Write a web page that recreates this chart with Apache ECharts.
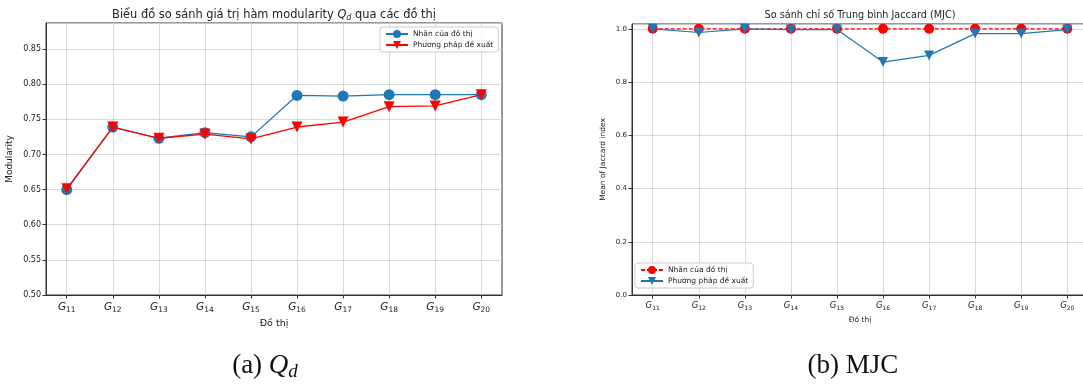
<!DOCTYPE html>
<html><head><meta charset="utf-8">
<script src="https://cdn.jsdelivr.net/npm/echarts@6/dist/echarts.min.js"></script>
<style>html,body{margin:0;padding:0;background:#fff}#c{width:1083px;height:385px}</style>
</head><body><div id="c"></div>
<script>
// ---- data ----
const categories = ['11','12','13','14','15','16','17','18','19','20'];
const qdGraphLabels = [0.650,0.739,0.723,0.731,0.725,0.784,0.783,0.785,0.785,0.785];
const qdProposed    = [0.651,0.739,0.723,0.729,0.722,0.739,0.746,0.768,0.769,0.785];
const mjcGraphLabels = [1.0,1.0,1.0,1.0,1.0,1.0,1.0,1.0,1.0,1.0];
const mjcProposed    = [1.0,0.986,1.0,0.997,0.997,0.875,0.900,0.982,0.982,0.997];
const nameLabels = 'Nhãn của đồ thị';
const nameProposed = 'Phương pháp đề xuất';

const FONT = 'DejaVu Sans';
const BLUE = '#1f77b4', RED = '#ff0000', GRIDC = '#d0d0d0', AXC = '#333';
const idx = categories.map((_, i) => i);
const pairs = arr => arr.map((v, i) => [i, v]);

function xAxisFor(gridIndex, gSize, sSize, nameSize, nameGap, margin) {
  return {
    type: 'value', gridIndex, min: -0.45, max: 9.45,
    name: 'Đồ thị', nameLocation: 'middle', nameGap,
    nameTextStyle: {fontFamily: FONT, fontSize: nameSize, color: '#222'},
    axisLine: {show: true, onZero: false, lineStyle: {color: AXC, width: 1}},
    axisTick: {show: true, length: 3.5, lineStyle: {color: AXC}, customValues: idx},
    splitLine: {show: true, lineStyle: {color: GRIDC, width: 0.8}},
    axisLabel: {
      customValues: idx, margin,
      formatter: v => Number.isInteger(v) && categories[v] ? '{g|G}{s|' + categories[v] + '}' : '',
      rich: {
        g: {fontFamily: FONT, fontStyle: 'italic', fontSize: gSize, color: '#222'},
        s: {fontFamily: FONT, fontSize: sSize, color: '#222', padding: [Math.round(gSize*0.55),0,0,0]}
      }
    }
  };
}
function yAxisFor(gridIndex, min, max, interval, digits, name, nameSize, nameGap, labelSize) {
  return {
    type: 'value', gridIndex, min, max, interval,
    name, nameLocation: 'middle', nameGap,
    nameTextStyle: {fontFamily: FONT, fontSize: nameSize, color: '#222'},
    axisLine: {show: true, onZero: false, lineStyle: {color: AXC, width: 1}},
    axisTick: {show: true, length: 3.5, lineStyle: {color: AXC}},
    splitLine: {show: true, lineStyle: {color: GRIDC, width: 0.8}},
    axisLabel: {showMaxLabel: false, margin: 5, fontFamily: FONT, fontSize: labelSize, color: '#222',
      formatter: v => v.toFixed(digits)}
  };
}

const chart = echarts.init(document.getElementById('c'), null, {renderer: 'canvas'});
chart.setOption({
  animation: false,
  backgroundColor: '#fff',
  grid: [
    {left: 46, top: 23, width: 456, height: 272, outerBoundsMode: 'none', containLabel: false, show: true, borderColor: AXC, borderWidth: 1, backgroundColor: 'transparent'},
    {left: 632, top: 24, width: 456, height: 271, outerBoundsMode: 'none', containLabel: false, show: true, borderColor: AXC, borderWidth: 1, backgroundColor: 'transparent'}
  ],
  xAxis: [xAxisFor(0, 10.5, 7.5, 9.5, 22, 5), xAxisFor(1, 8.5, 6, 7.5, 20, 5)],
  yAxis: [
    yAxisFor(0, 0.5, 0.887, 0.05, 2, 'Modularity', 9, 32, 8),
    yAxisFor(1, 0, 1.018, 0.2, 1, 'Mean of Jaccard index', 7.5, 25, 7)
  ],
  legend: [
    {left: 380, top: 27, orient: 'vertical', padding: [3, 5], itemGap: 3, itemWidth: 22, itemHeight: 10,
     data: [nameLabels, nameProposed], borderColor: '#ccc', borderWidth: 1, borderRadius: 3,
     backgroundColor: 'rgba(255,255,255,0.85)', textStyle: {fontFamily: FONT, fontSize: 7.5, color: '#222'}},
    {left: 635, top: 263, orient: 'vertical', padding: [3, 5], itemGap: 3, itemWidth: 22, itemHeight: 10,
     data: [nameLabels + '\u200b', nameProposed + '\u200b'], borderColor: '#ccc', borderWidth: 1, borderRadius: 3,
     backgroundColor: 'rgba(255,255,255,0.85)', textStyle: {fontFamily: FONT, fontSize: 7.5, color: '#222'}}
  ],
  series: [
    {name: nameLabels, type: 'line', xAxisIndex: 0, yAxisIndex: 0, data: pairs(qdGraphLabels),
     symbol: 'circle', symbolSize: 11, itemStyle: {color: BLUE}, lineStyle: {color: BLUE, width: 1.3}, z: 2},
    {name: nameProposed, type: 'line', xAxisIndex: 0, yAxisIndex: 0, data: pairs(qdProposed),
     symbol: 'triangle', symbolRotate: 180, symbolSize: 11, itemStyle: {color: RED}, lineStyle: {color: RED, width: 1.3}, z: 3},
    {name: nameLabels + '\u200b', type: 'line', xAxisIndex: 1, yAxisIndex: 1, data: pairs(mjcGraphLabels),
     symbol: 'circle', symbolSize: 10, itemStyle: {color: RED}, lineStyle: {color: RED, width: 1.2, type: [4, 2]}, z: 2},
    {name: nameProposed + '\u200b', type: 'line', xAxisIndex: 1, yAxisIndex: 1, data: pairs(mjcProposed),
     symbol: 'triangle', symbolRotate: 180, symbolSize: 10, itemStyle: {color: BLUE}, lineStyle: {color: BLUE, width: 1.2}, z: 3}
  ],
  graphic: [
    {type: 'text', x: 274, y: 15, z: 10, style: {
      text: 'Biểu đồ so sánh giá trị hàm modularity {q|Q}{d|d} qua các đồ thị',
      align: 'center', verticalAlign: 'middle', fontFamily: FONT, fontSize: 11.4, fill: '#222',
      rich: {q: {fontFamily: FONT, fontStyle: 'italic', fontSize: 11.4, fill: '#222'},
             d: {fontFamily: FONT, fontStyle: 'italic', fontSize: 8, fill: '#222', padding: [5,0,0,0]}}}},
    {type: 'text', x: 860, y: 15, z: 10, style: {
      text: 'So sánh chỉ số Trung bình Jaccard (MJC)', align: 'center', verticalAlign: 'middle',
      fontFamily: FONT, fontSize: 9.7, fill: '#222'}},
    {type: 'text', x: 265, y: 366, z: 10, style: {
      text: '(a) {q|Q}{d|d}', align: 'center', verticalAlign: 'middle',
      fontFamily: 'Liberation Serif', fontSize: 27, fill: '#111',
      rich: {q: {fontFamily: 'Liberation Serif', fontStyle: 'italic', fontSize: 27, fill: '#111'},
             d: {fontFamily: 'Liberation Serif', fontStyle: 'italic', fontSize: 19, fill: '#111', padding: [12,0,0,0]}}}},
    {type: 'text', x: 853, y: 366, z: 10, style: {
      text: '(b) MJC', align: 'center', verticalAlign: 'middle',
      fontFamily: 'Liberation Serif', fontSize: 27, fill: '#111'}}
  ]
});
</script></body></html>
